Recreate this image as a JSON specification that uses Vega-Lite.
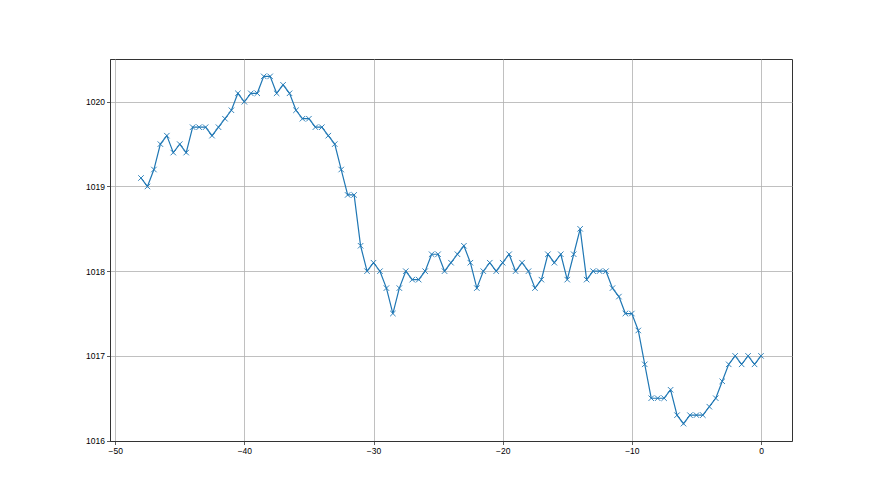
{
  "$schema": "https://vega.github.io/schema/vega-lite/v6.json",
  "autosize": "none",
  "width": 682,
  "height": 382,
  "padding": {"left": 110, "top": 59, "right": 88, "bottom": 54},
  "background": "white",
  "config": {
    "view": {"stroke": "#333333", "strokeWidth": 1},
    "axis": {
      "labelFont": "Liberation Sans",
      "labelFontSize": 8.5,
      "labelColor": "black",
      "domainColor": "#333333",
      "domainWidth": 1,
      "tickColor": "#333333",
      "tickSize": 3.5,
      "tickWidth": 0.8,
      "labelPadding": 2,
      "grid": true,
      "gridColor": "#b0b0b0",
      "gridWidth": 0.8,
      "title": null
    }
  },
  "data": {
    "values": [
      {"t": -48, "p": 1019.1}, {"t": -47.5, "p": 1019.0}, {"t": -47, "p": 1019.2}, {"t": -46.5, "p": 1019.5},
      {"t": -46, "p": 1019.6}, {"t": -45.5, "p": 1019.4}, {"t": -45, "p": 1019.5}, {"t": -44.5, "p": 1019.4},
      {"t": -44, "p": 1019.7}, {"t": -43.5, "p": 1019.7}, {"t": -43, "p": 1019.7}, {"t": -42.5, "p": 1019.6},
      {"t": -42, "p": 1019.7}, {"t": -41.5, "p": 1019.8}, {"t": -41, "p": 1019.9}, {"t": -40.5, "p": 1020.1},
      {"t": -40, "p": 1020.0}, {"t": -39.5, "p": 1020.1}, {"t": -39, "p": 1020.1}, {"t": -38.5, "p": 1020.3},
      {"t": -38, "p": 1020.3}, {"t": -37.5, "p": 1020.1}, {"t": -37, "p": 1020.2}, {"t": -36.5, "p": 1020.1},
      {"t": -36, "p": 1019.9}, {"t": -35.5, "p": 1019.8}, {"t": -35, "p": 1019.8}, {"t": -34.5, "p": 1019.7},
      {"t": -34, "p": 1019.7}, {"t": -33.5, "p": 1019.6}, {"t": -33, "p": 1019.5}, {"t": -32.5, "p": 1019.2},
      {"t": -32, "p": 1018.9}, {"t": -31.5, "p": 1018.9}, {"t": -31, "p": 1018.3}, {"t": -30.5, "p": 1018.0},
      {"t": -30, "p": 1018.1}, {"t": -29.5, "p": 1018.0}, {"t": -29, "p": 1017.8}, {"t": -28.5, "p": 1017.5},
      {"t": -28, "p": 1017.8}, {"t": -27.5, "p": 1018.0}, {"t": -27, "p": 1017.9}, {"t": -26.5, "p": 1017.9},
      {"t": -26, "p": 1018.0}, {"t": -25.5, "p": 1018.2}, {"t": -25, "p": 1018.2}, {"t": -24.5, "p": 1018.0},
      {"t": -24, "p": 1018.1}, {"t": -23.5, "p": 1018.2}, {"t": -23, "p": 1018.3}, {"t": -22.5, "p": 1018.1},
      {"t": -22, "p": 1017.8}, {"t": -21.5, "p": 1018.0}, {"t": -21, "p": 1018.1}, {"t": -20.5, "p": 1018.0},
      {"t": -20, "p": 1018.1}, {"t": -19.5, "p": 1018.2}, {"t": -19, "p": 1018.0}, {"t": -18.5, "p": 1018.1},
      {"t": -18, "p": 1018.0}, {"t": -17.5, "p": 1017.8}, {"t": -17, "p": 1017.9}, {"t": -16.5, "p": 1018.2},
      {"t": -16, "p": 1018.1}, {"t": -15.5, "p": 1018.2}, {"t": -15, "p": 1017.9}, {"t": -14.5, "p": 1018.2},
      {"t": -14, "p": 1018.5}, {"t": -13.5, "p": 1017.9}, {"t": -13, "p": 1018.0}, {"t": -12.5, "p": 1018.0},
      {"t": -12, "p": 1018.0}, {"t": -11.5, "p": 1017.8}, {"t": -11, "p": 1017.7}, {"t": -10.5, "p": 1017.5},
      {"t": -10, "p": 1017.5}, {"t": -9.5, "p": 1017.3}, {"t": -9, "p": 1016.9}, {"t": -8.5, "p": 1016.5},
      {"t": -8, "p": 1016.5}, {"t": -7.5, "p": 1016.5}, {"t": -7, "p": 1016.6}, {"t": -6.5, "p": 1016.3},
      {"t": -6, "p": 1016.2}, {"t": -5.5, "p": 1016.3}, {"t": -5, "p": 1016.3}, {"t": -4.5, "p": 1016.3},
      {"t": -4, "p": 1016.4}, {"t": -3.5, "p": 1016.5}, {"t": -3, "p": 1016.7}, {"t": -2.5, "p": 1016.9},
      {"t": -2, "p": 1017.0}, {"t": -1.5, "p": 1016.9}, {"t": -1, "p": 1017.0}, {"t": -0.5, "p": 1016.9},
      {"t": 0, "p": 1017.0}
    ]
  },
  "encoding": {
    "x": {
      "field": "t", "type": "quantitative",
      "scale": {"domain": [-50.4, 2.4], "nice": false, "zero": false},
      "axis": {"values": [-50, -40, -30, -20, -10, 0], "format": "d"}
    },
    "y": {
      "field": "p", "type": "quantitative",
      "scale": {"domain": [1015.995, 1020.505], "nice": false, "zero": false},
      "axis": {"values": [1016, 1017, 1018, 1019, 1020], "format": "d"}
    }
  },
  "layer": [
    {"mark": {"type": "line", "color": "#1f77b4", "strokeWidth": 1.2}},
    {"mark": {"type": "point", "shape": "M-1,-1L1,1M-1,1L1,-1", "filled": false, "color": "#1f77b4", "strokeWidth": 0.9, "size": 30, "opacity": 1}}
  ]
}
